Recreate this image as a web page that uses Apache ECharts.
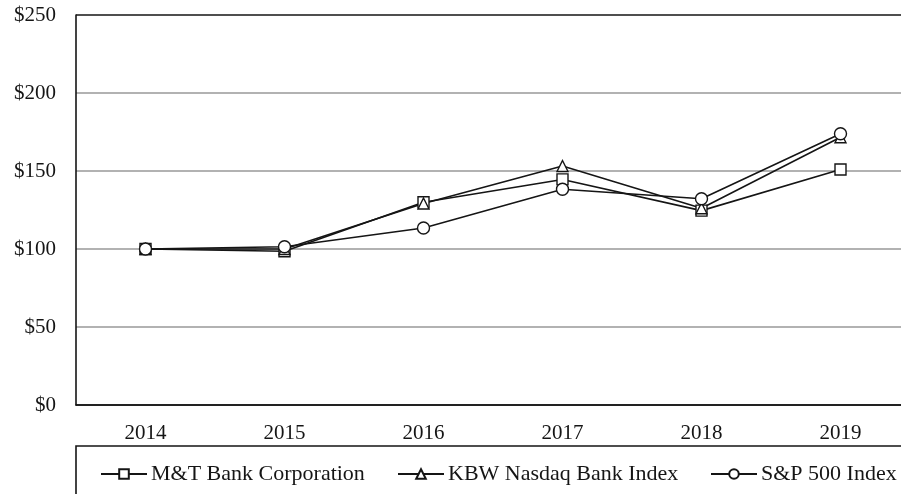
<!DOCTYPE html>
<html>
<head>
<meta charset="utf-8">
<script src="https://cdn.jsdelivr.net/npm/echarts@6/dist/echarts.min.js"></script>
<style>html,body{margin:0;padding:0;background:#fff}#c{width:901px;height:494px}</style>
</head>
<body>
<div id="c"></div>
<script>
const years = ['2014', '2015', '2016', '2017', '2018', '2019'];
const mtb = [100, 98.6, 130.0, 144.6, 124.6, 151.0];
const kbw = [100, 100.0, 129.2, 153.2, 126.1, 171.6];
const spx = [100, 101.4, 113.5, 138.3, 132.2, 173.9];
const yTicks = [0, 50, 100, 150, 200, 250];
const names = ['M&T Bank Corporation', 'KBW Nasdaq Bank Index', 'S&P 500 Index'];

const FONT = 'Liberation Serif';
const chart = echarts.init(document.getElementById('c'));
const mk = (name, data, symbol, size) => ({
  name, type: 'line', data, symbol, symbolSize: size,
  lineStyle: { color: '#151515', width: 1.6 },
  itemStyle: { color: '#fff', borderColor: '#151515', borderWidth: 1.4 },
  emphasis: { disabled: true }, animation: false
});
const legendBase = {
  top: 458, itemWidth: 46, itemHeight: 12, itemGap: 0,
  textStyle: { fontFamily: FONT, fontSize: 22, color: '#151515', padding: [0,0,0,-1] },
  selectedMode: false
};
chart.setOption({
  animation: false,
  grid: { left: 76, width: 834, top: 15, height: 390, containLabel: false, outerBoundsMode: 'none' },
  xAxis: {
    type: 'category', data: years, boundaryGap: true,
    axisLine: { lineStyle: { color: '#151515', width: 1.6 } },
    axisTick: { inside: true, alignWithLabel: true, length: 6, lineStyle: { color: '#151515', width: 1.2 } },
    axisLabel: { fontFamily: FONT, fontSize: 21, color: '#151515', margin: 18 },
    splitLine: { show: false }
  },
  yAxis: {
    type: 'value', min: 0, max: 250, interval: 50,
    axisLine: { show: true, lineStyle: { color: '#151515', width: 1.6 } },
    axisTick: { show: false },
    axisLabel: { fontFamily: FONT, fontSize: 21, color: '#151515', margin: 20,
      formatter: v => yTicks.includes(v) ? '$' + v : '' },
    splitLine: { show: true, lineStyle: { color: ['#151515', '#999', '#999', '#999', '#999', '#151515'], width: 1.5 } }
  },
  legend: [
    Object.assign({}, legendBase, { left: 95, data: [names[0]] }),
    Object.assign({}, legendBase, { left: 392, data: [names[1]] }),
    Object.assign({}, legendBase, { left: 705, data: [names[2]] })
  ],
  graphic: [{
    type: 'rect', shape: { x: 76, y: 446, width: 900, height: 100 },
    style: { fill: 'none', stroke: '#151515', lineWidth: 1.6 }, silent: true
  }],
  series: [
    mk(names[0], mtb, 'rect', 11),
    mk(names[1], kbw, 'triangle', 11),
    mk(names[2], spx, 'circle', 12)
  ]
});
</script>
</body>
</html>
